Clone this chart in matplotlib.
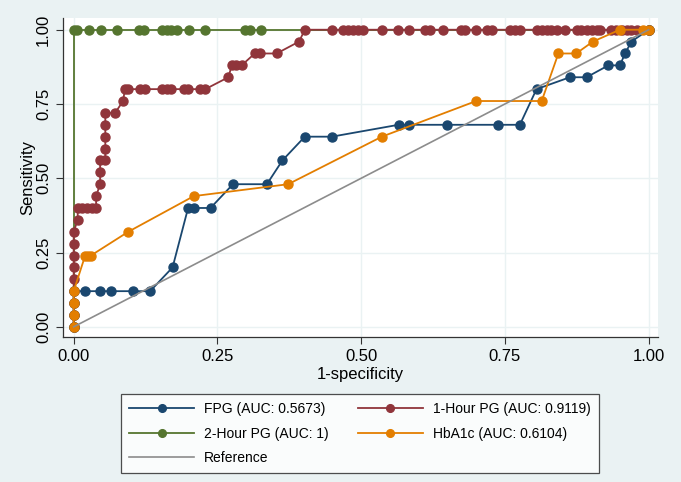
import numpy as np
import matplotlib
matplotlib.use("Agg")
from matplotlib import pyplot as plt

plt.rcParams['font.family'] = ['Liberation Sans', 'DejaVu Sans']

# ROC points (1-specificity, sensitivity)
fpg_x = [0.0, 0.0, 0.0, 0.0, 0.019, 0.046, 0.065, 0.104, 0.133, 0.172, 0.199, 0.209,
         0.238, 0.277, 0.336, 0.363, 0.402, 0.449, 0.565, 0.584, 0.650, 0.738,
         0.776, 0.805, 0.863, 0.892, 0.930, 0.950, 0.959, 0.970, 1.0]
fpg_y = [0.0, 0.04, 0.08, 0.12, 0.12, 0.12, 0.12, 0.12, 0.12, 0.20, 0.40, 0.40,
         0.40, 0.48, 0.48, 0.56, 0.64, 0.64, 0.68, 0.68, 0.68, 0.68,
         0.68, 0.80, 0.84, 0.84, 0.88, 0.88, 0.92, 0.96, 1.0]

h1_x = [0.0, 0.0, 0.0, 0.0, 0.0, 0.0, 0.0, 0.0, 0.0, 0.007, 0.007, 0.014, 0.023,
        0.032, 0.039, 0.039, 0.046, 0.046, 0.046, 0.055, 0.055, 0.055, 0.055, 0.055,
        0.072, 0.086, 0.089, 0.095, 0.115, 0.124, 0.153, 0.162, 0.170, 0.191, 0.199,
        0.220, 0.229, 0.269, 0.275, 0.283, 0.292, 0.315, 0.324, 0.353, 0.392, 0.402,
        0.449, 0.468, 0.477, 0.486, 0.494, 0.503, 0.536, 0.564, 0.583, 0.611, 0.620,
        0.642, 0.673, 0.681, 0.700, 0.718, 0.727, 0.759, 0.767, 0.776, 0.805, 0.814,
        0.823, 0.831, 0.840, 0.855, 0.875, 0.883, 0.892, 0.901, 0.910, 0.915, 0.935,
        0.944, 0.953, 0.962, 0.970, 0.979, 1.0]
h1_y = [0.0, 0.04, 0.08, 0.12, 0.16, 0.20, 0.24, 0.28, 0.32, 0.36, 0.40, 0.40, 0.40,
        0.40, 0.40, 0.44, 0.48, 0.52, 0.56, 0.56, 0.60, 0.64, 0.68, 0.72,
        0.72, 0.76, 0.80, 0.80, 0.80, 0.80, 0.80, 0.80, 0.80, 0.80, 0.80,
        0.80, 0.80, 0.84, 0.88, 0.88, 0.88, 0.92, 0.92, 0.92, 0.96, 1.0,
        1.0, 1.0, 1.0, 1.0, 1.0, 1.0, 1.0, 1.0, 1.0, 1.0, 1.0,
        1.0, 1.0, 1.0, 1.0, 1.0, 1.0, 1.0, 1.0, 1.0, 1.0, 1.0,
        1.0, 1.0, 1.0, 1.0, 1.0, 1.0, 1.0, 1.0, 1.0, 1.0, 1.0,
        1.0, 1.0, 1.0, 1.0, 1.0, 1.0]

h2_x = [0.0, 0.0, 0.005, 0.027, 0.047, 0.075, 0.114, 0.122, 0.153, 0.162, 0.170,
        0.179, 0.201, 0.229, 0.298, 0.307, 0.325, 1.0]
h2_y = [0.0, 1.0, 1.0, 1.0, 1.0, 1.0, 1.0, 1.0, 1.0, 1.0, 1.0,
        1.0, 1.0, 1.0, 1.0, 1.0, 1.0, 1.0]

hba_x = [0.0, 0.0, 0.0, 0.0, 0.020, 0.025, 0.030, 0.095, 0.209, 0.373, 0.536,
         0.700, 0.814, 0.843, 0.874, 0.903, 0.950, 0.991, 1.0]
hba_y = [0.0, 0.04, 0.08, 0.12, 0.24, 0.24, 0.24, 0.32, 0.44, 0.48, 0.64,
         0.76, 0.76, 0.92, 0.92, 0.96, 1.0, 1.0, 1.0]

labels = ['FPG (AUC: 0.5673)', '1-Hour PG (AUC: 0.9119)',
          '2-Hour PG (AUC: 1)', 'HbA1c (AUC: 0.6104)', 'Reference']
ticks = [0.0, 0.25, 0.5, 0.75, 1.0]
tick_labels = ['0.00', '0.25', '0.50', '0.75', '1.00']

bg = '#eaf2f3'
c_fpg = '#1a476f'
c_h1 = '#90353b'
c_h2 = '#55752f'
c_hba = '#e37e00'
c_ref = '#8c8c8c'

fig = plt.figure(figsize=(6.81, 4.82), dpi=100, facecolor=bg)
ax = fig.add_axes([0.0925, 0.301, 0.8735, 0.662])
ax.set_facecolor('white')

ms = 6.5
l2, = ax.plot(h2_x, h2_y, '-o', color=c_h2, ms=ms, lw=1.3, zorder=3)
l1, = ax.plot(h1_x, h1_y, '-o', color=c_h1, ms=ms, lw=1.3, zorder=4)
l0, = ax.plot(fpg_x, fpg_y, '-o', color=c_fpg, ms=ms, lw=1.3, zorder=5)
l3, = ax.plot(hba_x, hba_y, '-o', color=c_hba, ms=ms, lw=1.3, zorder=6)
lr, = ax.plot([0, 1], [0, 1], '-', color=c_ref, lw=1.2, zorder=7)

ax.set_xlim(-0.0186, 1.016)
ax.set_ylim(-0.034, 1.040)
ax.set_xticks(ticks)
ax.set_xticklabels(tick_labels)
ax.set_yticks(ticks)
ax.set_yticklabels(tick_labels, rotation=90, va='center')
ax.tick_params(labelsize=12, length=5, width=0.8, color='#333333')
ax.grid(True, color=bg, lw=1.0, zorder=0)
for s in ['top', 'right']:
  ax.spines[s].set_visible(False)
for s in ['left', 'bottom']:
  ax.spines[s].set_color('#333333')
  ax.spines[s].set_linewidth(0.9)

ax.set_xlabel('1-specificity', fontsize=12, labelpad=2)
ax.set_ylabel('Sensitivity', fontsize=12, labelpad=1)

# legend filled column-wise: FPG / 2-Hour / Reference, then 1-Hour / HbA1c
handles = [l0, l2, lr, l1, l3]
names = [labels[0], labels[2], labels[4], labels[1], labels[3]]
leg = fig.legend(handles, names, ncol=2, loc='upper left',
                 bbox_to_anchor=(121 / 681., 1 - 394 / 482.),
                 fontsize=10, frameon=True, fancybox=False, handlelength=4.67,
                 handletextpad=0.72, markerscale=0.85, borderaxespad=0,
                 columnspacing=2.1, labelspacing=0.74, borderpad=0.6)
leg.get_frame().set_edgecolor('#222222')
leg.get_frame().set_linewidth(0.9)
leg.get_frame().set_facecolor('white')

fig.savefig('out.png', dpi=100, facecolor=bg)
